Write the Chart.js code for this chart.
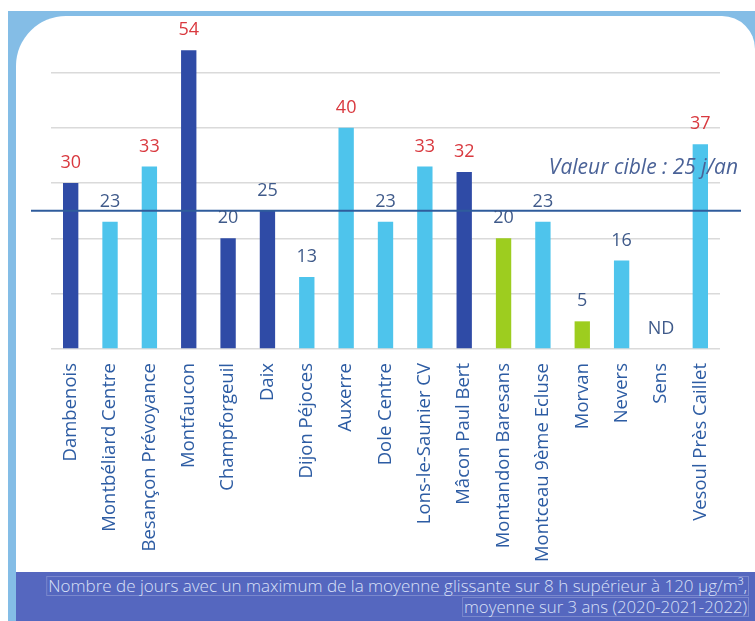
<!DOCTYPE html>
<html><head><meta charset="utf-8">
<script src="https://cdn.jsdelivr.net/npm/chart.js@4.4.1/dist/chart.umd.min.js"></script>
<style>
html,body{margin:0;padding:0;background:#fff;}
#wrap{position:relative;width:755px;height:621px;overflow:hidden;background:#fff;}
#frame{position:absolute;left:8px;top:11px;width:760px;height:620px;background:#84bde6;}
#panel{position:absolute;left:16px;top:16px;width:739px;height:556px;background:#fff;border-top-left-radius:50px;border-top-right-radius:33px;}
#band{position:absolute;left:16px;top:572px;width:739px;height:49px;background:#5567bf;}
#c{position:absolute;left:0;top:0;}
.fl{position:absolute;right:6px;white-space:nowrap;color:#d9e0f7;font-family:'Open Sans',sans-serif;font-weight:300;font-size:17px;line-height:18px;transform-origin:right center;border:1px solid rgba(255,255,255,0.22);padding:0 1px;}
</style></head>
<body>
<div id="wrap">
 <div id="frame"></div>
 <div id="panel"></div>
 <div id="band">
  <span class="fl" id="l1" style="top:4px;">Nombre de jours avec un maximum de la moyenne glissante sur 8 h supérieur à 120 µg/m³,</span>
  <span class="fl" id="l2" style="top:25px;">moyenne sur 3 ans (2020-2021-2022)</span>
 </div>
 <canvas id="c" width="755" height="572"></canvas>
</div>
<script>
const stations = ['Dambenois','Montbéliard Centre','Besançon Prévoyance','Montfaucon','Champforgeuil','Daix','Dijon Péjoces','Auxerre','Dole Centre','Lons-le-Saunier CV','Mâcon Paul Bert','Montandon Baresans','Montceau 9ème Ecluse','Morvan','Nevers','Sens','Vesoul Près Caillet'];
const days = [30,23,33,54,20,25,13,40,23,33,32,20,23,5,16,null,37];
const stationType = ['dark','light','light','dark','dark','dark','light','light','light','light','dark','green','light','green','light','light','light'];
const targetValue = 25;
const targetLabel = 'Valeur cible : 25 j/an';
const missingLabel = 'ND';

const typeColors = {dark:'#2f4ba6', light:'#4ec4ec', green:'#9dcd1f'};

const overlay = {
  id:'overlay',
  afterDatasetsDraw(chart){
    const ctx = chart.ctx, y = chart.scales.y, meta = chart.getDatasetMeta(0);
    const ty = y.getPixelForValue(targetValue);
    ctx.save();
    ctx.strokeStyle = '#2f5c9c'; ctx.lineWidth = 2;
    ctx.beginPath(); ctx.moveTo(31, ty); ctx.lineTo(741, ty); ctx.stroke();
    ctx.font = 'italic 21px "Open Sans", sans-serif';
    ctx.fillStyle = '#4a6297'; ctx.textAlign = 'right'; ctx.textBaseline = 'alphabetic';
    ctx.fillText(targetLabel, 738, ty - 37);
    ctx.font = '18px "Open Sans", sans-serif';
    ctx.textAlign = 'center'; ctx.textBaseline = 'bottom';
    meta.data.forEach((bar, i) => {
      const v = days[i];
      const top = v == null ? y.getPixelForValue(0) : bar.y;
      const txt = v == null ? missingLabel : String(v);
      ctx.fillStyle = (v != null && v > targetValue) ? '#d9393f' : '#3f5a8a';
      ctx.fillText(txt, bar.x, top - 11);
    });
    ctx.restore();
  }
};

new Chart(document.getElementById('c'), {
  type:'bar',
  data:{ labels: stations, datasets:[{ data: days, backgroundColor: stationType.map(t => typeColors[t]), barPercentage:0.39, categoryPercentage:1 }]},
  options:{
    responsive:false, animation:false,
    layout:{padding:{left:51,right:35,top:17,bottom:0}},
    plugins:{legend:{display:false}, tooltip:{enabled:false}},
    scales:{
      x:{ grid:{display:false, drawTicks:false}, border:{display:false},
          ticks:{maxRotation:90, minRotation:90, autoSkip:false, padding:14, color:'#2d5ca3', font:{family:'Open Sans', size:18.5}},
          afterFit(s){ s.height = 223; } },
      y:{ min:0, max:60, border:{display:false},
          ticks:{display:false, stepSize:10},
          grid:{ drawTicks:false, lineWidth:1.5, color: c => c.tick.value === 60 ? 'rgba(0,0,0,0)' : '#dadada' },
          afterFit(s){ s.width = 0; } }
    }
  },
  plugins:[overlay]
});

function fit(id, w){ const el = document.getElementById(id); const cw = el.getBoundingClientRect().width; el.style.transform = 'scaleX(' + (w/cw) + ')'; }
fit('l1', 703); fit('l2', 287);
</script>
</body></html>
